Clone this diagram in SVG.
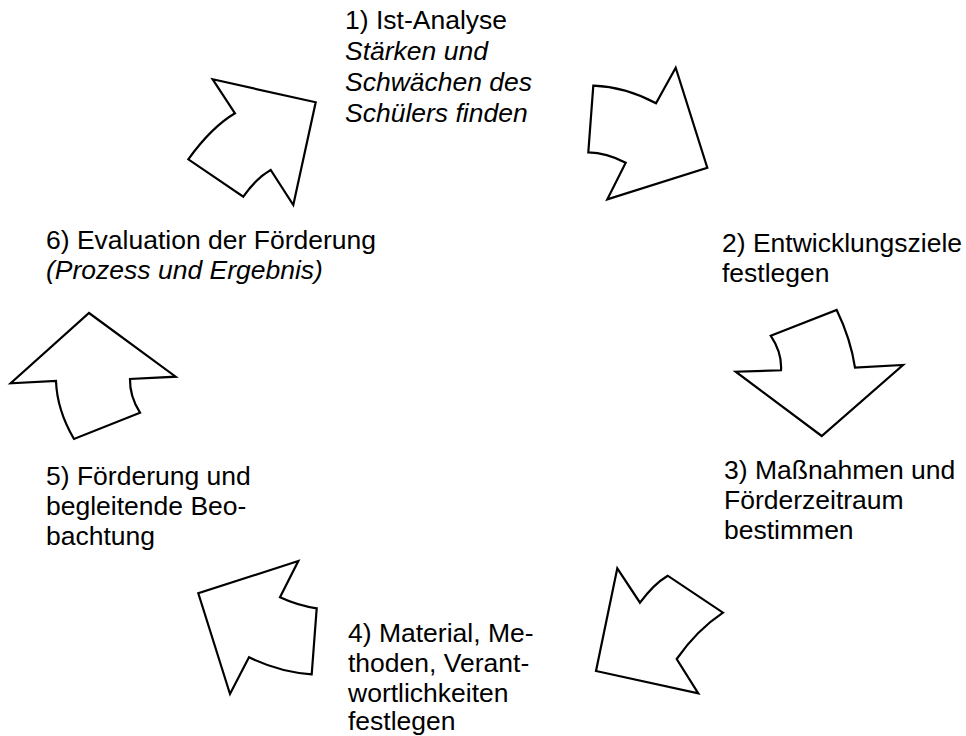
<svg xmlns="http://www.w3.org/2000/svg" width="966" height="736" viewBox="0 0 966 736">
<style>
.t{font-family:"Liberation Sans",Arial,sans-serif;font-size:26.5px;fill:#000}
.i{font-style:italic}
.a{fill:#fff;stroke:#000;stroke-width:2.2;stroke-linejoin:miter}
</style>
<rect width="966" height="736" fill="#fff"/>
<g id="connectors">
<path class="a" d="M212.7,79.3 L315.7,102.3 L293.3,205 L270.7,170 Q256.4,178 243.3,196.7 L188.3,159.3 Q211.7,127 235,113.3 Z"/>
<path class="a" d="M593.3,85.7 Q625.3,86.9 656,103.3 L675.7,67.7 L707.3,167.7 L607.3,199.3 L625.7,162.7 Q606.4,152.5 588.3,152.3 Z"/>
<path class="a" d="M770.7,335.7 L836.7,310 Q850.8,339.2 855,367.7 L903,365 L821.7,436 L735.7,371.7 L781,370.3 Q782.2,353 770.7,335.7 Z"/>
<path class="a" d="M617.3,568.3 L640,602.7 Q653.5,584.2 667.7,575.7 L723,612.7 Q697,630 676.7,659 L698.3,693.3 L596,671 Z"/>
<path class="a" d="M298.3,561 L198.3,593.3 L230,694 L249,657.3 Q279.6,672.2 311.7,674.3 L316.7,608.3 Q298.3,605.8 280,597.3 Z"/>
<path class="a" d="M89,313 L175.7,376.7 L130,379 Q129.6,396.2 140,412.7 L74,439 Q57,410 56,381 L10.7,383.3 Z"/>
</g>
<g id="n1"><text class="t" x="345" y="29">1) Ist-Analyse</text><text class="t i" x="345" y="60">Stärken und</text><text class="t i" x="345" y="91">Schwächen des</text><text class="t i" x="345" y="122">Schülers finden</text></g>
<g id="n2"><text class="t" x="722" y="252">2) Entwicklungsziele</text><text class="t" x="722" y="282">festlegen</text></g>
<g id="n3"><text class="t" x="724" y="479">3) Maßnahmen und</text><text class="t" x="724" y="509">Förderzeitraum</text><text class="t" x="724" y="539">bestimmen</text></g>
<g id="n4"><text class="t" x="348" y="642">4) Material, Me-</text><text class="t" x="348" y="672">thoden, Verant-</text><text class="t" x="348" y="702">wortlichkeiten</text><text class="t" x="348" y="730">festlegen</text></g>
<g id="n5"><text class="t" x="46" y="485">5) Förderung und</text><text class="t" x="46" y="515">begleitende Beo-</text><text class="t" x="46" y="545">bachtung</text></g>
<g id="n6"><text class="t" x="46" y="249">6) Evaluation der Förderung</text><text class="t i" x="46" y="279">(Prozess und Ergebnis)</text></g>
</svg>
